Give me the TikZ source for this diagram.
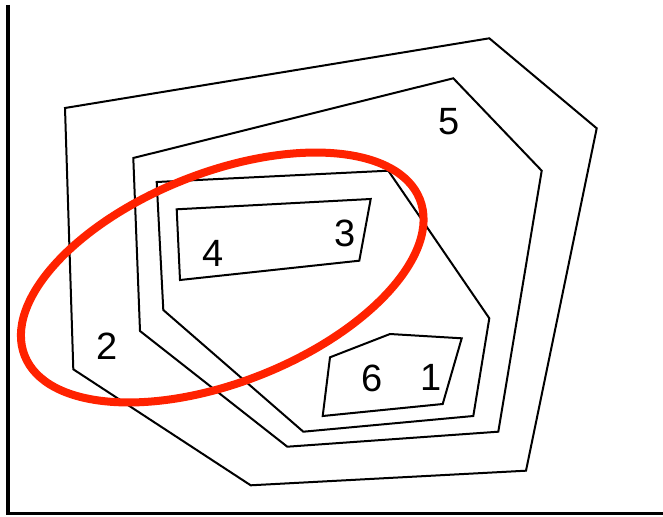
\documentclass[tikz,border=0pt]{standalone}
\usepackage{fontspec}
\setmainfont{Liberation Sans}
\definecolor{ellred}{RGB}{255,34,0}
\begin{document}
\begin{tikzpicture}[x=1pt,y=-1pt,
  region/.style={draw=black,line width=2pt,line join=miter},
  axisline/.style={draw=black,line width=3.5pt},
  lab/.style={inner sep=0pt,anchor=center,font=\fontsize{38}{40}\selectfont}]
\useasboundingbox (0,0) rectangle (663,516);
% axes
\draw[axisline] (8,5) -- (8,513.5) -- (665,513.5);
% outer region
\draw[region] (65,108) -- (489.3,38.3) -- (596.7,128.3) -- (526,470.7) -- (250.7,485.3) -- (73.3,369.3) -- cycle;
% second region
\draw[region] (133.3,158) -- (453.3,78.3) -- (541.7,170.7) -- (498.3,431.7) -- (287.3,446.7) -- (140,331) -- cycle;
% third region
\draw[region] (156.7,182) -- (388.3,170.7) -- (489.3,318.3) -- (473.3,416) -- (303.3,431.7) -- (163.3,310) -- cycle;
% box 4/3
\draw[region] (176.7,209.3) -- (370.7,199) -- (359.3,260.7) -- (180,280) -- cycle;
% box 6/1
\draw[region] (330,357.3) -- (390,334) -- (461.7,338.3) -- (442.7,404) -- (322.7,416) -- cycle;
% labels
\node[lab] (l5) at (449.3,121.7) {5};
\node[lab] (l2) at (107.3,346.2) {2};
\node[lab] (l4) at (213,253.3) {4};
\node[lab] (l3) at (345,233.3) {3};
\node[lab] (l6) at (372.5,378.8) {6};
\node[lab] (l1) at (430.8,377) {1};
% red ellipse
\draw[ellred,line width=8pt,rotate around={21.6:(222.25,277.5)}] (222.25,277.5) ellipse [x radius=212.5pt,y radius=104.8pt];
\end{tikzpicture}
\end{document}
